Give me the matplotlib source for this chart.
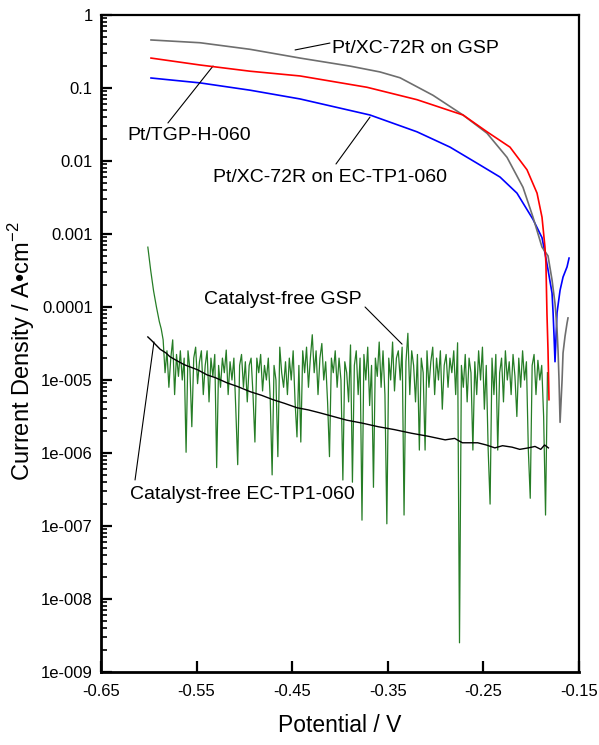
import numpy as np
import matplotlib
matplotlib.use("Agg")
import matplotlib.pyplot as plt
from matplotlib.ticker import FixedLocator, FixedFormatter, LogLocator, NullFormatter

plt.rcParams['font.family'] = ['Liberation Sans', 'DejaVu Sans']
plt.rcParams['mathtext.fontset'] = 'custom'
plt.rcParams['mathtext.rm'] = 'Liberation Sans'

# ---------------- data (potential in V, current density as log10 A/cm2) ----------------
gsp_v = [-0.5977, -0.5464, -0.4941, -0.4418, -0.3895, -0.3582, -0.3372, -0.3027, -0.2713,
         -0.2462, -0.2253, -0.2086, -0.1981, -0.1887, -0.1824, -0.1782, -0.1751, -0.1730,
         -0.1719, -0.1709, -0.1698, -0.1677, -0.1667, -0.1646, -0.1625, -0.1615]
gsp_log = [-0.342, -0.38, -0.47, -0.59, -0.70, -0.78, -0.86, -1.10, -1.37,
           -1.62, -1.95, -2.36, -2.77, -3.18, -3.30, -3.63, -3.95, -4.30,
           -4.60, -5.00, -5.58, -5.00, -4.63, -4.40, -4.22, -4.15]

tgp_v = [-0.5977, -0.5464, -0.4941, -0.4418, -0.3718, -0.3195, -0.2713, -0.2462, -0.2222,
         -0.2044, -0.1939, -0.1887, -0.1856, -0.1846, -0.1835, -0.1824, -0.1814]
tgp_log = [-0.59, -0.685, -0.77, -0.835, -0.99, -1.16, -1.37, -1.60, -1.81,
           -2.12, -2.44, -2.77, -3.18, -3.40, -4.10, -4.60, -5.27]

ec_v = [-0.5977, -0.5464, -0.4941, -0.4418, -0.3686, -0.3195, -0.2849, -0.2567, -0.2326,
        -0.2149, -0.1981, -0.1887, -0.1856, -0.1824, -0.1782, -0.1771, -0.1761, -0.1751,
        -0.1740, -0.1730, -0.1698, -0.1667, -0.1625, -0.1604]
ec_log = [-0.863, -0.93, -1.03, -1.15, -1.37, -1.60, -1.81, -2.03, -2.22,
          -2.44, -2.80, -3.05, -3.26, -3.49, -3.81, -4.08, -4.40, -4.75,
          -4.40, -4.08, -3.77, -3.59, -3.45, -3.33]

cf_ec_v = [-0.601, -0.597, -0.594, -0.588, -0.582, -0.578, -0.570, -0.563, -0.557, -0.549,
           -0.539, -0.530, -0.518, -0.507, -0.494, -0.482, -0.470, -0.458, -0.445, -0.433,
           -0.421, -0.407, -0.393, -0.377, -0.360, -0.343, -0.325, -0.308, -0.290, -0.280,
           -0.272, -0.256, -0.247, -0.238, -0.230, -0.220, -0.212, -0.203, -0.196, -0.190,
           -0.186, -0.182]
cf_ec_log = [-4.41, -4.46, -4.50, -4.58, -4.63, -4.68, -4.74, -4.79, -4.82, -4.86,
             -4.93, -4.97, -5.04, -5.09, -5.16, -5.21, -5.27, -5.32, -5.38, -5.41,
             -5.45, -5.50, -5.55, -5.59, -5.64, -5.68, -5.73, -5.77, -5.82, -5.80,
             -5.86, -5.86, -5.89, -5.93, -5.90, -5.92, -5.95, -5.93, -5.91, -5.95,
             -5.89, -5.93]

cf_gsp_head_v = [-0.601, -0.598, -0.595, -0.592, -0.589, -0.587]
cf_gsp_head_log = [-3.18, -3.50, -3.78, -4.00, -4.20, -4.30]
cf_gsp_noise_log = [
    -4.45, -4.90, -4.60, -5.10, -4.70, -4.45, -5.20, -4.65, -4.95, -4.60,
    -5.00, -4.70, -5.99, -4.60, -4.85, -5.64, -4.70, -4.55, -5.05, -4.75,
    -4.60, -5.20, -4.80, -4.60, -5.30, -4.70, -4.95, -4.65, -6.20, -4.80,
    -5.10, -4.70, -4.90, -4.59, -5.20, -4.75, -5.00, -4.70, -5.40, -6.16,
    -4.80, -4.65, -5.10, -4.75, -5.30, -4.80, -4.70, -5.20, -5.85, -4.70,
    -4.90, -4.65, -5.15, -4.80, -5.00, -4.70, -5.25, -6.30, -4.80, -5.00,
    -6.05, -4.55, -4.90, -5.10, -4.75, -5.20, -4.70, -5.00, -4.60, -5.30,
    -5.78, -4.80, -5.85, -4.60, -4.90, -4.55, -5.10, -4.70, -4.38, -4.90,
    -4.60, -5.20, -4.70, -4.50, -5.00, -4.75, -5.30, -6.05, -4.70, -4.90,
    -4.60, -5.10, -4.70, -5.00, -6.37, -4.75, -4.90, -5.30, -4.52, -6.40,
    -4.80, -4.60, -5.20, -4.70, -6.92, -4.65, -5.00, -4.55, -5.35, -4.80,
    -6.47, -4.70, -4.95, -4.48, -5.10, -4.60, -5.20, -6.97, -4.70, -5.00,
    -4.48, -5.15, -4.70, -4.60, -5.00, -4.55, -6.85, -4.75, -4.36, -5.20,
    -4.60, -4.80, -5.30, -4.65, -5.96, -4.70, -4.90, -5.96, -4.60, -5.10,
    -4.75, -4.55, -5.20, -4.70, -5.00, -4.60, -5.40, -4.80, -4.65, -5.10,
    -4.70, -4.90, -4.60, -5.20, -4.49, -8.60, -4.80, -5.10, -4.65, -5.30,
    -4.70, -4.90, -5.96, -4.75, -5.20, -4.60, -5.00, -4.55, -5.40, -4.80,
    -5.96, -6.70, -4.70, -5.20, -4.65, -5.96, -4.90, -4.70, -5.30, -4.60,
    -5.00, -4.75, -5.20, -4.65, -4.95, -5.50, -4.70, -5.10, -4.60, -5.00,
    -4.75, -5.96, -6.62, -4.80, -4.65, -5.20, -4.73, -5.00, -4.80, -5.50,
    -6.85, -4.90]
cf_gsp_noise_start, cf_gsp_noise_end = -0.585, -0.183

x_ticks = [-0.65, -0.55, -0.45, -0.35, -0.25, -0.15]
x_tick_labels = ["-0.65", "-0.55", "-0.45", "-0.35", "-0.25", "-0.15"]
y_ticks = [1, 0.1, 0.01, 0.001, 0.0001, 1e-5, 1e-6, 1e-7, 1e-8, 1e-9]
y_tick_labels = ["1", "0.1", "0.01", "0.001", "0.0001", "1e-005", "1e-006",
                 "1e-007", "1e-008", "1e-009"]

# ---------------- figure ----------------
W, H = 599, 745
fig = plt.figure(figsize=(W / 100, H / 100), dpi=100)
ax = fig.add_axes([101 / W, 1 - 672 / H, 478 / W, 657 / H])
ax.set_yscale('log')

cf_gsp_v = list(cf_gsp_head_v) + list(np.linspace(cf_gsp_noise_start, cf_gsp_noise_end,
                                                  len(cf_gsp_noise_log)))
cf_gsp_log = list(cf_gsp_head_log) + list(cf_gsp_noise_log)

ax.plot(cf_gsp_v, 10 ** np.array(cf_gsp_log), color='#267d26', lw=0.9, zorder=2)
ax.plot(cf_ec_v, 10 ** np.array(cf_ec_log), color='black', lw=1.0, zorder=3)
ax.plot(ec_v, 10 ** np.array(ec_log), color='#0000ff', lw=1.2, zorder=3)
ax.plot(gsp_v, 10 ** np.array(gsp_log), color='#6e6e6e', lw=1.2, zorder=3)
ax.plot(tgp_v, 10 ** np.array(tgp_log), color='#ff0000', lw=1.2, zorder=4)

ax.set_xlim(-0.65, -0.15)
ax.set_ylim(1e-9, 1)

ax.xaxis.set_major_locator(FixedLocator(x_ticks))
ax.xaxis.set_major_formatter(FixedFormatter(x_tick_labels))
ax.yaxis.set_major_locator(FixedLocator(y_ticks))
ax.yaxis.set_major_formatter(FixedFormatter(y_tick_labels))
ax.yaxis.set_minor_locator(LogLocator(base=10, subs=np.arange(2, 10), numticks=20))
ax.yaxis.set_minor_formatter(NullFormatter())

ax.tick_params(axis='both', which='major', direction='in', length=8, width=1.6,
               labelsize=12, top=False, right=False)
ax.tick_params(axis='y', which='minor', direction='in', length=4, width=1.2, right=False)
ax.tick_params(axis='y', pad=6)
ax.tick_params(axis='x', pad=9)

for s in ['left', 'bottom']:
    ax.spines[s].set_linewidth(2.0)
for s in ['top', 'right']:
    ax.spines[s].set_linewidth(1.6)

ax.set_xlabel('Potential / V', fontsize=16.5)
ax.xaxis.set_label_coords(0.5, -0.064)
ax.set_ylabel('Current Density / A\u2022cm$^{\\mathregular{-2}}$', fontsize=17)
ax.yaxis.set_label_coords(-0.134, 0.488)

# ---------------- annotations ----------------
line_kw = dict(arrowstyle='-', color='black', lw=0.8, shrinkA=0, shrinkB=0)
txt_kw = dict(fontsize=14, va='center', ha='left')

ax.text(-0.4084, 0.353, 'Pt/XC-72R on GSP', **txt_kw)
ax.annotate('', xy=(-0.447, 0.332), xytext=(-0.4105, 0.413), arrowprops=line_kw)

ax.text(-0.6228, 0.0227, 'Pt/TGP-H-060', **txt_kw)
ax.annotate('', xy=(-0.5328, 0.2), xytext=(-0.580, 0.0332), arrowprops=line_kw)

ax.text(-0.5328, 0.00585, 'Pt/XC-72R on EC-TP1-060', **txt_kw)
ax.annotate('', xy=(-0.3686, 0.040), xytext=(-0.4042, 0.0091), arrowprops=line_kw)

ax.text(-0.5423, 1.25e-4, 'Catalyst-free GSP', **txt_kw)
ax.annotate('', xy=(-0.3351, 3.1e-5), xytext=(-0.3738, 1.0e-4), arrowprops=line_kw)

ax.text(-0.6197, 2.66e-7, 'Catalyst-free EC-TP1-060', **txt_kw)
ax.annotate('', xy=(-0.5946, 3.32e-5), xytext=(-0.6144, 4.27e-7), arrowprops=line_kw)

fig.savefig('out.png', dpi=100)
